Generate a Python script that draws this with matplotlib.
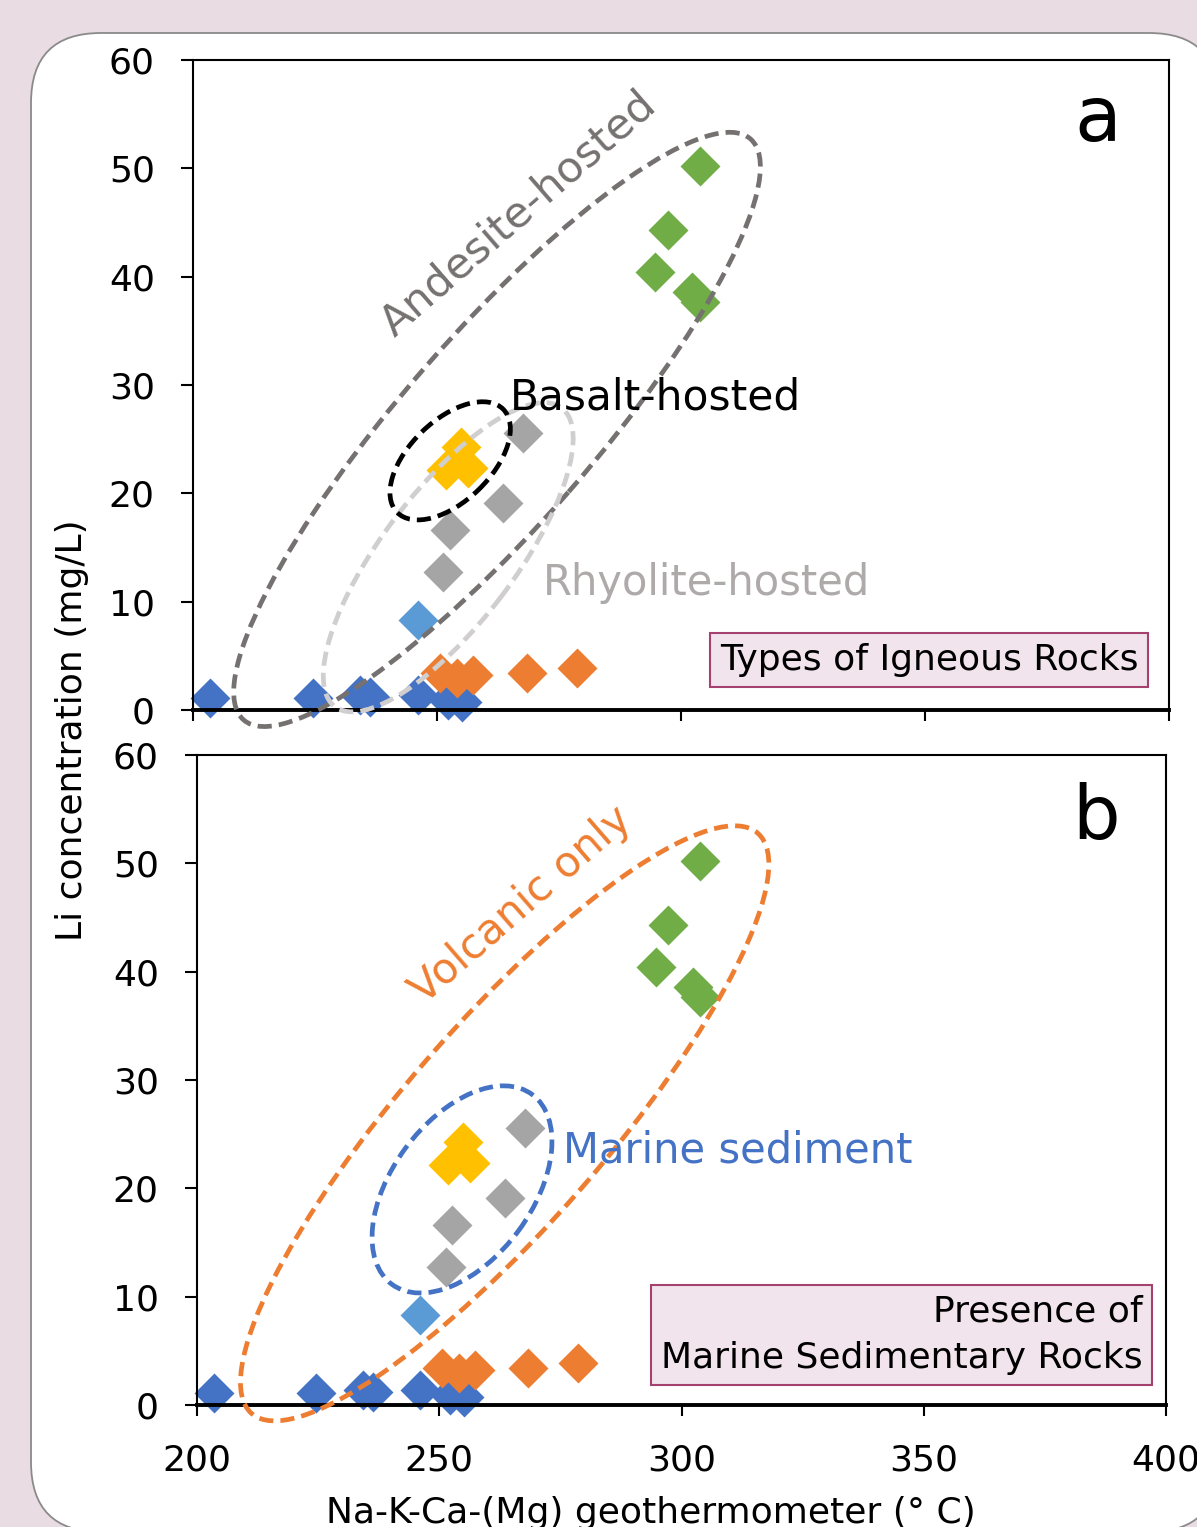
import matplotlib
matplotlib.use("Agg")
import matplotlib.pyplot as plt
from matplotlib.patches import Ellipse, FancyBboxPatch
from matplotlib import transforms

# ---------------- data ----------------
blue_x = [203.5, 224.6, 234.2, 236.3, 246.1, 252.3, 255.1]
blue_y = [1.1, 1.1, 1.4, 1.2, 1.4, 0.9, 0.7]
lblue_x = [246.1]
lblue_y = [8.3]
orange_x = [250.6, 254.1, 257.4, 268.4, 278.7]
orange_y = [3.4, 3.0, 3.2, 3.4, 3.9]
gray_x = [267.7, 263.6, 252.7, 251.3]
gray_y = [25.6, 19.1, 16.6, 12.7]
yellow_x = [254.9, 251.8, 256.4]
yellow_y = [24.3, 22.2, 22.3]
green_x = [303.9, 297.3, 294.7, 302.3, 303.9]
green_y = [50.2, 44.3, 40.4, 38.6, 37.7]

series = [
    (blue_x, blue_y, '#4472C4'),
    (lblue_x, lblue_y, '#5B9BD5'),
    (orange_x, orange_y, '#ED7D31'),
    (gray_x, gray_y, '#A5A5A5'),
    (yellow_x, yellow_y, '#FFC000'),
    (green_x, green_y, '#70AD47'),
]

x_ticks = [200, 250, 300, 350, 400]
y_ticks = [0, 10, 20, 30, 40, 50, 60]

# ellipse groups: (center x, center y, width in, height in, angle, color)
ell_a = [
    (262.3, 25.9, 7.71, 1.90, 48.9, '#767171'),   # Andesite
    (252.3, 14.1, 3.75, 1.32, 52.8, '#D0CECE'),   # Rhyolite
    (252.7, 23.0, 1.48, 0.81, 44.0, '#000000'),   # Basalt
]
ell_b = [
    (263.5, 26.0, 7.70, 2.01, 48.9, '#ED7D31'),   # Volcanic only
    (254.7, 19.9, 2.36, 1.40, 53.5, '#4472C4'),   # Marine sediment
]

W, H = 1197, 1527
DPI = 100
plt.rcParams['font.family'] = ['DejaVu Sans']
fig = plt.figure(figsize=(W / DPI, H / DPI), dpi=DPI)
fig.patch.set_facecolor('#E9DCE2')

# white rounded panel (pixel coords)
panel = FancyBboxPatch((31, H - 1532), 1219 - 31, 1532 - 33,
                       boxstyle='round,pad=0,rounding_size=70',
                       transform=transforms.IdentityTransform(),
                       fc='white', ec='#8A8A8A', lw=1.3, zorder=0)
fig.add_artist(panel)

ax1 = fig.add_axes([193 / W, (H - 710) / H, 976 / W, 650 / H])
ax2 = fig.add_axes([197 / W, (H - 1405) / H, 969 / W, 650 / H])


def style(ax, show_xlabels):
    ax.set_xlim(200, 400)
    ax.set_ylim(0, 60)
    ax.set_xticks(x_ticks)
    ax.set_yticks(y_ticks)
    for s in ['top', 'right', 'left']:
        ax.spines[s].set_linewidth(1.5)
    ax.spines['bottom'].set_linewidth(2.8)
    ax.tick_params(axis='y', direction='out', length=8.5, width=1.5,
                   labelsize=26, pad=19)
    ax.tick_params(axis='x', direction='out', length=8, width=1.5,
                   labelsize=26, pad=20, labelbottom=show_xlabels)
    ax.set_facecolor('none')


def draw_points(ax):
    for xs, ys, c in series:
        ax.plot(xs, ys, linestyle='none', marker='D', ms=20.4, color=c,
                mec='none', clip_on=False, zorder=2)


def draw_ellipses(ax, ells):
    for cx, cy, w, h, ang, c in ells:
        tr = fig.dpi_scale_trans + transforms.ScaledTranslation(cx, cy, ax.transData)
        e = Ellipse((0, 0), w, h, angle=ang, transform=tr, fill=False,
                    ec=c, lw=3.4, linestyle=(0, (3.0, 1.5)), clip_on=False,
                    zorder=3)
        ax.add_artist(e)


for ax, flag in [(ax1, False), (ax2, True)]:
    style(ax, flag)
    draw_points(ax)

draw_ellipses(ax1, ell_a)
draw_ellipses(ax2, ell_b)

# annotations panel a
ax1.text(0.951, 0.908, 'a', transform=ax1.transAxes, fontsize=55,
         ha='right', va='center')
ax1.text(268.3, 45.0, 'Andesite-hosted', color='#767171', fontsize=31,
         rotation=41, rotation_mode='anchor', ha='center', va='baseline')
ax1.text(265.0, 27.7, 'Basalt-hosted', color='black', fontsize=30.5,
         ha='left', va='baseline')
ax1.text(271.7, 10.6, 'Rhyolite-hosted', color='#AEAAAA', fontsize=30,
         ha='left', va='baseline')
box = dict(boxstyle='square,pad=0.27', fc='#F2E4EC', ec='#A4416F', lw=1.5)
ax1.text(0.754, 0.077, 'Types of Igneous Rocks', transform=ax1.transAxes,
         fontsize=26, ha='center', va='center', bbox=box)

# annotations panel b
ax2.text(0.9525, 0.903, 'b', transform=ax2.transAxes, fontsize=54,
         ha='right', va='center')
ax2.text(268.6, 45.3, 'Volcanic only', color='#ED7D31', fontsize=30.5,
         rotation=41, rotation_mode='anchor', ha='center', va='baseline')
ax2.text(275.5, 22.4, 'Marine sediment', color='#4472C4', fontsize=30,
         ha='left', va='baseline')
ax2.text(0.727, 0.108, 'Presence of\nMarine Sedimentary Rocks',
         transform=ax2.transAxes, fontsize=26, ha='center', va='center',
         multialignment='right', linespacing=1.45, bbox=box)

fig.text(72 / W, 1 - 730 / H, 'Li concentration (mg/L)', rotation=90,
         fontsize=26, ha='center', va='center')
fig.text(651 / W, (H - 1523) / H, 'Na-K-Ca-(Mg) geothermometer (° C)',
         fontsize=26, ha='center', va='baseline')

fig.savefig('out.png', dpi=DPI, facecolor=fig.get_facecolor())
